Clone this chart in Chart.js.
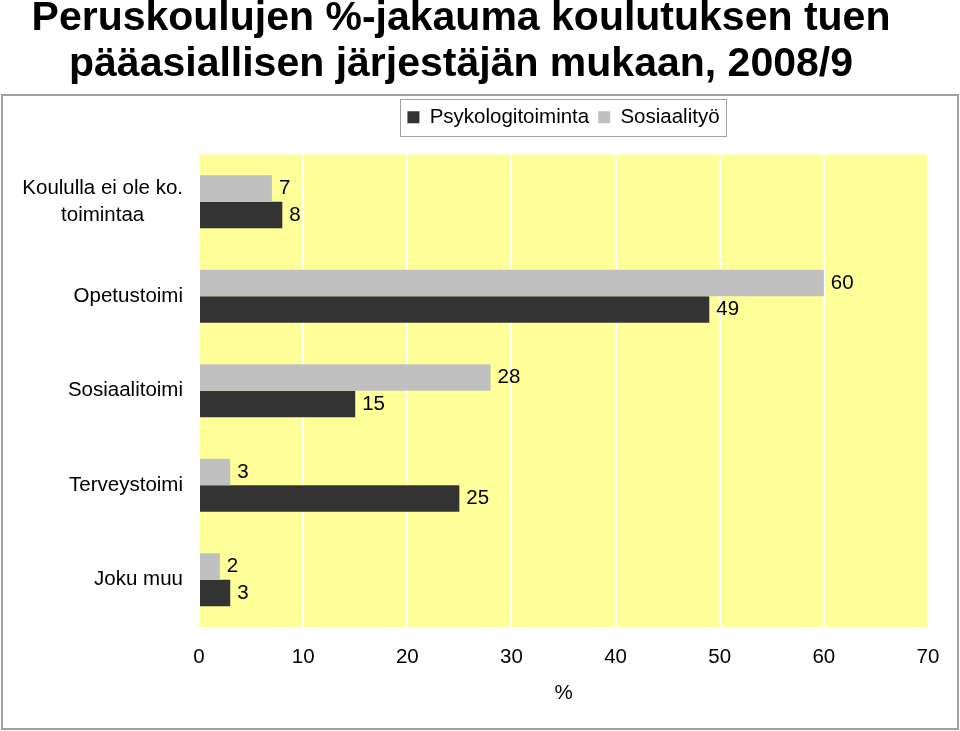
<!DOCTYPE html>
<html lang="fi">
<head>
<meta charset="utf-8">
<title>Peruskoulujen %-jakauma</title>
<script src="https://cdn.jsdelivr.net/npm/chart.js@4.4.1/dist/chart.umd.min.js"></script>
<style>
  html, body { margin: 0; padding: 0; background: #fff; }
  #wrap { position: relative; width: 960px; height: 731px; overflow: hidden; }
  #chart { position: absolute; left: 0; top: 0; }
  #title {
    position: absolute; left: 0; top: -7px; width: 922px;
    text-align: center; white-space: nowrap; color: #000;
    font: bold 41px 'Liberation Sans', Arial, sans-serif; line-height: 46px;
  }
</style>
</head>
<body>
<div id="wrap">
  <canvas id="chart" width="960" height="731"></canvas>
  <div id="title">Peruskoulujen %-jakauma koulutuksen tuen<br>pääasiallisen järjestäjän mukaan, 2008/9</div>
</div>
<script>
(function () {
    'use strict';

    /* --- Data --- */
    var categories = [
        ['Koululla ei ole ko.', 'toimintaa'],
        'Opetustoimi',
        'Sosiaalitoimi',
        'Terveystoimi',
        'Joku muu'
    ];
    var psykologitoiminta = [8, 49, 15, 25, 3];
    var sosiaalityo       = [7, 60, 28, 3, 2];
    var xTicks = [0, 10, 20, 30, 40, 50, 60, 70];

    /* --- Look --- */
    var FONT = "'Liberation Sans', Arial, sans-serif";
    var FS = 20.5;
    var dark   = '#333333';
    var grey   = '#c0c0c0';
    var yellow = '#ffff99';
    var frame  = '#a0a0a0';
    var LEGEND_TOP = 98;

    Chart.defaults.font.family = FONT;
    Chart.defaults.font.size = FS;
    Chart.defaults.color = '#000';

    /* frame, plot background, legend box, category + value labels */
    var decor = {
        id: 'decor',
        afterLayout: function (chart) {
            var lg = chart.legend, a = chart.chartArea;
            var h = lg.height;
            lg.left = a.left;
            lg.right = a.right;
            lg.width = a.right - a.left;
            lg.top = LEGEND_TOP;
            lg.bottom = LEGEND_TOP + h;
        },
        beforeDraw: function (chart) {
            var ctx = chart.ctx, a = chart.chartArea;
            ctx.save();
            ctx.strokeStyle = frame;
            ctx.lineWidth = 2;
            ctx.strokeRect(2, 95, 956, 634);
            ctx.fillStyle = yellow;
            ctx.fillRect(a.left, a.top, a.right - a.left, a.bottom - a.top);
            ctx.restore();
        },
        afterDatasetsDraw: function (chart) {
            var ctx = chart.ctx;
            ctx.save();
            ctx.font = FS + 'px ' + FONT;
            ctx.fillStyle = '#000';
            ctx.textBaseline = 'middle';
            ctx.textAlign = 'left';
            chart.data.datasets.forEach(function (ds, di) {
                chart.getDatasetMeta(di).data.forEach(function (bar, i) {
                    ctx.fillText(String(ds.data[i]), bar.x + 7, bar.y);
                });
            });

            // category labels: block right-aligned, lines centred inside it
            var y = chart.scales.y;
            var right = chart.chartArea.left - 16;
            var lineH = 27;
            ctx.textAlign = 'center';
            categories.forEach(function (c, i) {
                var lines = Array.isArray(c) ? c : [c];
                var w = 0;
                lines.forEach(function (l) { w = Math.max(w, ctx.measureText(l).width); });
                var cy = y.getPixelForValue(i);
                var y0 = cy - (lines.length - 1) * lineH / 2;
                lines.forEach(function (l, k) {
                    ctx.fillText(l, right - w / 2, y0 + k * lineH);
                });
            });

            // legend frame
            var hb = chart.legend.legendHitBoxes;
            if (hb && hb.length) {
                var l = Infinity, r = -Infinity;
                hb.forEach(function (b) {
                    l = Math.min(l, b.left);
                    r = Math.max(r, b.left + b.width);
                });
                var cyL = hb[0].top + hb[0].height / 2;
                ctx.strokeStyle = frame;
                ctx.lineWidth = 1;
                ctx.strokeRect(Math.round(l - 7) + 0.5, Math.round(cyL - 18.5) + 0.5, Math.round(r - l + 14), 37);
            }
            ctx.restore();
        }
    };

    new Chart(document.getElementById('chart'), {
        type: 'bar',
        data: {
            labels: categories,
            datasets: [
                {
                    label: 'Sosiaalityö',
                    data: sosiaalityo,
                    backgroundColor: grey,
                    borderWidth: 0,
                    categoryPercentage: 0.56,
                    barPercentage: 1.0
                },
                {
                    label: 'Psykologitoiminta',
                    data: psykologitoiminta,
                    backgroundColor: dark,
                    borderWidth: 0,
                    categoryPercentage: 0.56,
                    barPercentage: 1.0
                }
            ]
        },
        options: {
            indexAxis: 'y',
            responsive: false,
            animation: false,
            devicePixelRatio: 1,
            layout: { padding: { top: 115, right: 32, bottom: 0, left: 0 } },
            plugins: {
                legend: {
                    position: 'top',
                    reverse: true,
                    labels: {
                        boxWidth: 12,
                        boxHeight: 12,
                        padding: 9,
                        color: '#000',
                        font: { size: FS }
                    }
                },
                tooltip: { enabled: false }
            },
            scales: {
                x: {
                    min: xTicks[0],
                    max: xTicks[xTicks.length - 1],
                    afterBuildTicks: function (s) {
                        s.ticks = xTicks.map(function (v) { return { value: v }; });
                    },
                    afterFit: function (s) { s.height = 104; },
                    grid: { color: '#fff', lineWidth: 2, drawTicks: false },
                    border: { display: false },
                    ticks: { padding: 18, color: '#000', font: { size: FS }, maxRotation: 0 },
                    title: {
                        display: true,
                        text: '%',
                        color: '#000',
                        font: { size: FS },
                        padding: { top: 4, bottom: 25 }
                    }
                },
                y: {
                    afterFit: function (s) { s.width = 199; },
                    grid: { display: false },
                    border: { display: false },
                    ticks: { display: false }
                }
            }
        },
        plugins: [decor]
    });
})();
</script>
</body>
</html>
